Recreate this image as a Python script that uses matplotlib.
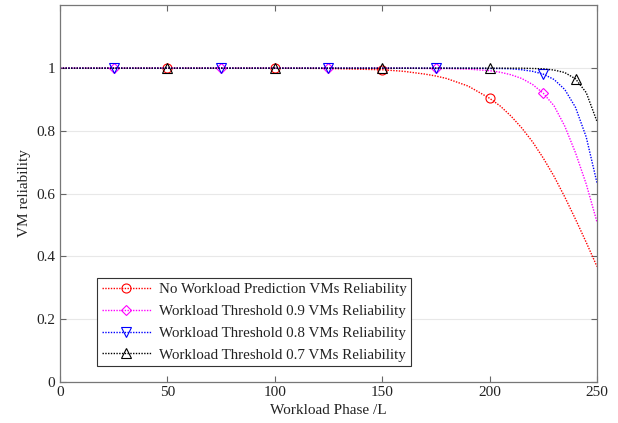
import matplotlib
matplotlib.use("Agg")
import matplotlib.pyplot as plt

# workload phase samples and reliability curves
phase = [0, 25, 50, 75, 100, 125, 150, 160, 170, 175, 180, 190, 200,
         205, 210, 215, 220, 225, 230, 235, 240, 245, 250]
no_pred = [1, 1, 1, 1, 1, 0.999, 0.995, 0.99, 0.981, 0.975, 0.967, 0.943, 0.904,
           0.879, 0.847, 0.809, 0.765, 0.713, 0.655, 0.589, 0.518, 0.444, 0.367]
thr_09 = [1, 1, 1, 1, 1, 1, 1, 1, 0.999, 0.999, 0.999, 0.997, 0.992,
          0.987, 0.979, 0.967, 0.948, 0.92, 0.88, 0.815, 0.73, 0.63, 0.509]
thr_08 = [1, 1, 1, 1, 1, 1, 1, 1, 1, 1, 1, 1, 0.999,
          0.999, 0.998, 0.995, 0.99, 0.981, 0.964, 0.932, 0.875, 0.78, 0.634]
thr_07 = [1, 1, 1, 1, 1, 1, 1, 1, 1, 1, 1, 1, 1,
          1, 1, 1, 0.999, 0.998, 0.994, 0.986, 0.966, 0.922, 0.83]

marks_no_pred = [50, 100, 150, 200]
marks_09 = [25, 75, 125, 175, 225]
marks_08 = [25, 75, 125, 175, 225]
marks_07 = [50, 100, 150, 200, 240]

labels = ["No Workload Prediction VMs Reliability",
          "Workload Threshold 0.9 VMs Reliability",
          "Workload Threshold 0.8 VMs Reliability",
          "Workload Threshold 0.7 VMs Reliability"]

plt.rcParams["font.family"] = ["Liberation Serif", "DejaVu Serif"]

fig = plt.figure(figsize=(6.18, 4.23), dpi=100)
ax = fig.add_axes([0.097, 0.098, 0.869, 0.889])

series = [
    (no_pred, marks_no_pred, "red", "o"),
    (thr_09, marks_09, "magenta", "D"),
    (thr_08, marks_08, "blue", "v"),
    (thr_07, marks_07, "black", "^"),
]
for (vals, marks, col, mk), lab in zip(series, labels):
    idx = [phase.index(m) for m in marks]
    ax.plot(phase, vals, linestyle=(0, (1, 1)), linewidth=1.0, color=col,
            marker=mk, markevery=idx, markersize=6.5 if mk != "D" else 5.5,
            markerfacecolor="none", markeredgewidth=0.8, label=lab)

ax.set_xlim(0, 250)
ax.set_ylim(0, 1.2)
ax.set_xticks([0, 50, 100, 150, 200, 250])
ax.set_yticks([0, 0.2, 0.4, 0.6, 0.8, 1])
ax.set_yticklabels(["0", "0.2", "0.4", "0.6", "0.8", "1"])
ax.tick_params(direction="in", top=True, right=True, labelsize=11,
               labelcolor="#222222", color="#666666", length=4, width=0.8)
for sp in ax.spines.values():
    sp.set_color("#777777")
    sp.set_linewidth(0.9)
ax.yaxis.grid(True, color="#e8e8e8", linewidth=0.8)
ax.set_axisbelow(True)

ax.set_xlabel("Workload Phase /L", fontsize=11, labelpad=3, color="#222222")
ax.set_ylabel("VM reliability", fontsize=11, labelpad=4, color="#222222")

leg = ax.legend(loc="lower left", bbox_to_anchor=(0.069, 0.041), fontsize=10.8,
                handlelength=3.3, handletextpad=0.5, borderpad=0.3,
                labelspacing=0.55, fancybox=False, framealpha=1,
                edgecolor="#333333", borderaxespad=0)
leg.get_frame().set_linewidth(0.8)
for t in leg.get_texts():
    t.set_color("#222222")

fig.savefig("out.png", dpi=100)
